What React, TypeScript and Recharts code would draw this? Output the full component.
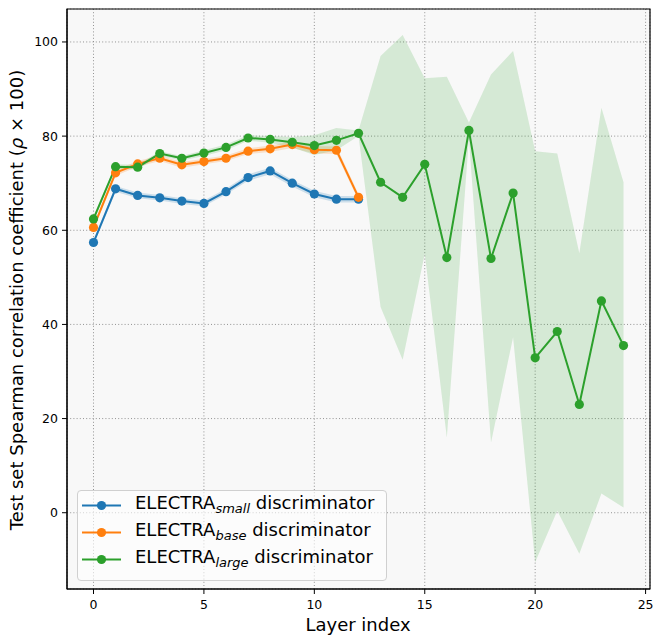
import {
  Area,
  CartesianGrid,
  ComposedChart,
  Line,
  ReferenceArea,
  XAxis,
  YAxis,
} from "recharts";

// layer index on x, Spearman rho x 100 on y
const layers = [0, 1, 2, 3, 4, 5, 6, 7, 8, 9, 10, 11, 12, 13, 14, 15, 16, 17, 18, 19, 20, 21, 22, 23, 24];

const smallMean = [57.4, 68.8, 67.4, 66.9, 66.2, 65.7, 68.2, 71.2, 72.6, 70.0, 67.7, 66.6, 66.6];
const smallSpread = [0.6, 0.6, 0.6, 0.6, 0.6, 0.6, 0.6, 0.7, 0.7, 0.7, 0.7, 0.7, 0.7];

const baseMean = [60.6, 72.2, 74.1, 75.3, 73.9, 74.6, 75.3, 76.8, 77.3, 78.2, 77.1, 77.0, 67.0];
const baseSpread = [0.6, 0.6, 0.6, 0.6, 0.6, 0.6, 0.6, 0.6, 0.7, 0.7, 0.8, 0.8, 0.7];

const largeMean = [
  62.4, 73.5, 73.4, 76.3, 75.3, 76.4, 77.6, 79.6, 79.3, 78.7, 78.0, 79.1, 80.6,
  70.2, 67.0, 74.0, 54.2, 81.2, 54.0, 67.9, 32.9, 38.5, 23.0, 45.0, 35.5,
];
const largeLow = [
  61.8, 73.0, 72.9, 75.8, 74.8, 75.8, 77.0, 79.0, 78.6, 77.6, 76.0, 77.0, 80.0,
  43.7, 32.5, 55.0, 16.0, 79.5, 14.9, 37.3, -10.5, 0.4, -8.7, 4.1, 1.1,
];
const largeHigh = [
  63.0, 74.0, 73.9, 76.8, 75.8, 77.0, 78.2, 80.2, 80.0, 79.8, 80.2, 81.7, 81.2,
  97.0, 101.5, 92.3, 92.6, 82.9, 93.1, 98.1, 76.8, 76.3, 55.1, 86.0, 70.2,
];

const xTicks = [0, 5, 10, 15, 20, 25];
const yTicks = [0, 20, 40, 60, 80, 100];

const BLUE = "#1f77b4";
const ORANGE = "#ff7f0e";
const GREEN = "#2ca02c";
const FONT = '"DejaVu Sans", sans-serif';
const DOT_R = 4.6;

const X_DOMAIN: [number, number] = [-1.2, 25.2];
const Y_DOMAIN: [number, number] = [-16.2, 107.0];

const rows = layers.map((layer, i) => ({
  layer,
  small: i < smallMean.length ? smallMean[i] : null,
  smallBand: i < smallMean.length ? [smallMean[i] - smallSpread[i], smallMean[i] + smallSpread[i]] : null,
  base: i < baseMean.length ? baseMean[i] : null,
  baseBand: i < baseMean.length ? [baseMean[i] - baseSpread[i], baseMean[i] + baseSpread[i]] : null,
  large: largeMean[i],
  largeBand: [largeLow[i], largeHigh[i]],
}));

const legendItems = [
  { color: BLUE, sub: "small" },
  { color: ORANGE, sub: "base" },
  { color: GREEN, sub: "large" },
];

function YTitle() {
  return (
    <text
      x={23}
      y={300}
      transform="rotate(-90 23 300)"
      textAnchor="middle"
      fontFamily={FONT}
      fontSize={18}
      fill="#000"
    >
      Test set Spearman correlation coefficient (<tspan fontStyle="italic">ρ</tspan> × 100)
    </text>
  );
}

function XTitle() {
  return (
    <text x={358} y={631} textAnchor="middle" fontFamily={FONT} fontSize={18} fill="#000">
      Layer index
    </text>
  );
}

function ChartLegend() {
  return (
    <div
      style={{
        position: "absolute",
        left: 77,
        top: 490,
        width: 308,
        height: 88,
        border: "1px solid #d0d0d0",
        borderRadius: 4,
        background: "rgba(255,255,255,0.6)",
        paddingTop: 1,
        fontFamily: FONT,
        fontSize: 18,
        color: "#000",
      }}
    >
      {legendItems.map((it) => (
        <div key={it.sub} style={{ height: 27, display: "flex", alignItems: "center" }}>
          <svg width={39} height={27} style={{ marginLeft: 4, marginRight: 14 }}>
            <line x1={0} y1={13.5} x2={39} y2={13.5} stroke={it.color} strokeWidth={2} />
            <circle cx={19.5} cy={13.5} r={DOT_R} fill={it.color} />
          </svg>
          <span style={{ whiteSpace: "nowrap", lineHeight: "27px" }}>
            ELECTRA
            <span style={{ fontStyle: "italic", fontSize: 13, verticalAlign: -4 }}>{it.sub}</span>
            {" discriminator"}
          </span>
        </div>
      ))}
    </div>
  );
}

export default function App() {
  return (
    <div style={{ position: "relative", width: 664, height: 644, margin: "-8px 0 0 -8px" }}>
      <ComposedChart
        width={664}
        height={644}
        data={rows}
        margin={{ top: 9, right: 14, bottom: 0, left: 0 }}
      >
        <CartesianGrid
          fill="#f8f8f8"
          stroke="#888"
          strokeDasharray="1 2.2"
          strokeWidth={0.9}
        />
        <XAxis
          dataKey="layer"
          type="number"
          domain={X_DOMAIN}
          ticks={xTicks}
          allowDataOverflow
          height={55}
          tickSize={5}
          tickMargin={6}
          tick={{ fill: "#000", fontSize: 12.5, fontFamily: FONT }}
          stroke="#000"
          label={<XTitle />}
        />
        <YAxis
          type="number"
          domain={Y_DOMAIN}
          ticks={yTicks}
          allowDataOverflow
          width={67}
          tickSize={5}
          tickMargin={4}
          tick={{ fill: "#000", fontSize: 12.5, fontFamily: FONT }}
          stroke="#000"
          label={<YTitle />}
        />
        <Area
          dataKey="smallBand"
          type="linear"
          stroke="none"
          fill={BLUE}
          fillOpacity={0.2}
          isAnimationActive={false}
          activeDot={false}
        />
        <Area
          dataKey="baseBand"
          type="linear"
          stroke="none"
          fill={ORANGE}
          fillOpacity={0.2}
          isAnimationActive={false}
          activeDot={false}
        />
        <Area
          dataKey="largeBand"
          type="linear"
          stroke="none"
          fill={GREEN}
          fillOpacity={0.17}
          isAnimationActive={false}
          activeDot={false}
        />
        <Line
          dataKey="small"
          type="linear"
          stroke={BLUE}
          strokeWidth={2}
          dot={{ r: DOT_R, fill: BLUE, stroke: BLUE, strokeWidth: 0 }}
          activeDot={false}
          isAnimationActive={false}
        />
        <Line
          dataKey="base"
          type="linear"
          stroke={ORANGE}
          strokeWidth={2}
          dot={{ r: DOT_R, fill: ORANGE, stroke: ORANGE, strokeWidth: 0 }}
          activeDot={false}
          isAnimationActive={false}
        />
        <Line
          dataKey="large"
          type="linear"
          stroke={GREEN}
          strokeWidth={2}
          dot={{ r: DOT_R, fill: GREEN, stroke: GREEN, strokeWidth: 0 }}
          activeDot={false}
          isAnimationActive={false}
        />
        <ReferenceArea
          x1={X_DOMAIN[0]}
          x2={X_DOMAIN[1]}
          y1={Y_DOMAIN[0]}
          y2={Y_DOMAIN[1]}
          fill="none"
          stroke="#000"
          strokeWidth={1.2}
          ifOverflow="visible"
        />
      </ComposedChart>
      <ChartLegend />
    </div>
  );
}
